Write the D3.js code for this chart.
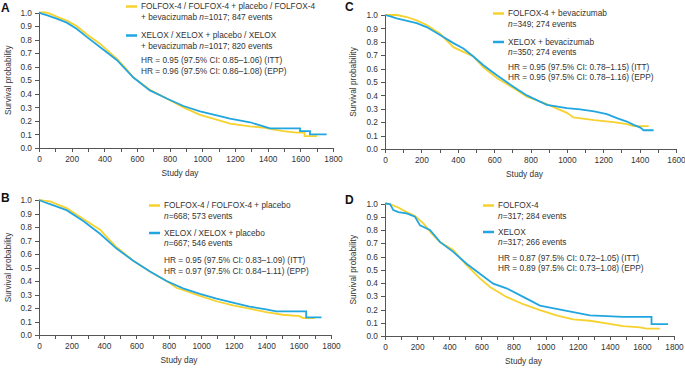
<!DOCTYPE html>
<html lang="en"><head>
<meta charset="utf-8">
<title>Survival curves A-D</title>
<script src="https://cdn.jsdelivr.net/npm/d3@7"></script>
<style>
  body { margin: 0; background: #fff; }
  .axis path, .axis line { fill: none; stroke: #555; shape-rendering: crispEdges; }
  .axis text { font-family: "Liberation Sans", Arial, sans-serif; font-size: 8.3px; fill: #333; }
  .lbl { font-family: "Liberation Sans", Arial, sans-serif; font-size: 8.3px; fill: #333; }
</style>
<script>
// survival data: [study day, survival probability]
const aFolfox = [[0,1],[40,1.0],[70,0.99],[108,0.97],[170,0.94],[230,0.90],[292,0.84],[373,0.77],[476,0.66],[530,0.59],[578,0.52],[679,0.43],[782,0.365],[884,0.30],[986,0.245],[1088,0.21],[1169,0.18],[1292,0.16],[1371,0.15],[1496,0.125],[1577,0.114],[1626,0.114],[1626,0.088],[1702,0.088]];
const aXelox = [[0,1],[20,0.99],[47,0.98],[108,0.955],[170,0.925],[230,0.88],[292,0.82],[373,0.745],[476,0.65],[578,0.52],[679,0.425],[782,0.365],[884,0.31],[986,0.27],[1088,0.24],[1169,0.217],[1292,0.19],[1414,0.145],[1598,0.145],[1598,0.125],[1659,0.125],[1659,0.10],[1761,0.10]];

const bFolfox = [[0,1],[30,0.995],[68,0.99],[170,0.94],[273,0.86],[376,0.78],[478,0.65],[500,0.63],[581,0.55],[684,0.47],[786,0.40],[847,0.35],[992,0.29],[1094,0.25],[1195,0.22],[1298,0.195],[1400,0.17],[1503,0.15],[1606,0.14],[1628,0.125],[1700,0.125]];
const bXelox = [[0,1],[30,0.985],[68,0.97],[170,0.925],[273,0.845],[376,0.75],[478,0.64],[581,0.55],[684,0.47],[786,0.40],[888,0.345],[992,0.305],[1094,0.27],[1195,0.24],[1298,0.21],[1400,0.19],[1462,0.175],[1647,0.175],[1647,0.13],[1741,0.13]];

const cFolfox = [[0,1],[64,1.0],[120,0.985],[174,0.96],[229,0.925],[303,0.86],[376,0.76],[431,0.725],[486,0.69],[541,0.61],[615,0.53],[706,0.455],[780,0.39],[890,0.335],[1000,0.27],[1037,0.235],[1150,0.215],[1257,0.20],[1330,0.185],[1367,0.17],[1450,0.17]];
const cXelox = [[0,1],[30,0.99],[64,0.975],[174,0.94],[229,0.91],[303,0.85],[376,0.79],[431,0.75],[486,0.69],[541,0.625],[615,0.55],[706,0.465],[780,0.40],[890,0.33],[1000,0.305],[1073,0.295],[1150,0.28],[1220,0.26],[1275,0.23],[1330,0.205],[1367,0.18],[1404,0.16],[1422,0.14],[1477,0.14]];

const dFolfox = [[0,1],[31,0.995],[83,0.97],[135,0.935],[187,0.905],[239,0.85],[290,0.775],[342,0.71],[425,0.65],[508,0.535],[591,0.435],[654,0.37],[757,0.295],[861,0.24],[965,0.195],[1068,0.155],[1172,0.125],[1276,0.115],[1380,0.095],[1483,0.075],[1587,0.065],[1629,0.055],[1712,0.055]];
const dXelox = [[0,1],[31,0.995],[52,0.95],[83,0.935],[135,0.925],[187,0.90],[218,0.835],[280,0.80],[342,0.71],[425,0.635],[508,0.545],[591,0.47],[674,0.395],[757,0.36],[861,0.295],[965,0.23],[1068,0.205],[1172,0.18],[1276,0.155],[1380,0.15],[1483,0.145],[1660,0.145],[1660,0.09],[1763,0.09]];

const yTicks = [0,0.1,0.2,0.3,0.4,0.5,0.6,0.7,0.8,0.9,1.0];

// legend texts: [folfox line 1, folfox line 2, xelox line 1, xelox line 2, HR ITT, HR EPP]
const aLegend = ["FOLFOX-4 / FOLFOX-4 + placebo / FOLFOX-4", "+ bevacizumab |n|=1017; 847 events", "XELOX / XELOX + placebo / XELOX", "+ bevacizumab |n|=1017; 820 events", "HR = 0.95 (97.5% CI: 0.85\u20131.06) (ITT)", "HR = 0.96 (97.5% CI: 0.86\u20131.08) (EPP)"];
const bLegend = ["FOLFOX-4 / FOLFOX-4 + placebo", "|n|=668; 573 events", "XELOX / XELOX + placebo", "|n|=667;  546 events", "HR = 0.95 (97.5% CI: 0.83\u20131.09) (ITT)", "HR = 0.97 (97.5% CI: 0.84\u20131.11) (EPP)"];
const cLegend = ["FOLFOX-4 + bevacizumab", "|n|=349; 274 events", "XELOX + bevacizumab", "|n|=350;  274 events", "HR = 0.95 (97.5% CI: 0.78\u20131.15) (ITT)", "HR = 0.95 (97.5% CI: 0.78\u20131.16) (EPP)"];
const dLegend = ["FOLFOX-4", "|n|=317; 284 events", "XELOX", "|n|=317; 266 events", "HR = 0.87 (97.5% CI: 0.72\u20131.05) (ITT)", "HR = 0.89 (97.5% CI: 0.73\u20131.08) (EPP)"];

const yellow = "#f6d22e";
const blue = "#21a6e0";

const width = 685, height = 369;

// panel layout (pixel frame of each plot)
const panels = [
  {letter: "A", folfox: aFolfox, xelox: aXelox, legend: aLegend, xMax: 1800, x0: 39, x1: 333, yTop: 12.5, yBot: 148, lx: 126, ly: [9, 19.5, 38, 48.5, 63, 73.5], ylx: 8, letterPos: [1, 12]},
  {letter: "C", folfox: cFolfox, xelox: cXelox, legend: cLegend, xMax: 1600, x0: 385, x1: 676, yTop: 15, yBot: 149, lx: 493, ly: [16, 26.5, 44.5, 55, 69.5, 80], ylx: 353, letterPos: [345, 11]},
  {letter: "B", folfox: bFolfox, xelox: bXelox, legend: bLegend, xMax: 1800, x0: 39, x1: 331, yTop: 200, yBot: 335, lx: 149, ly: [208, 218.5, 235.5, 246, 263, 273.5], ylx: 8, letterPos: [1, 202]},
  {letter: "D", folfox: dFolfox, xelox: dXelox, legend: dLegend, xMax: 1800, x0: 385, x1: 674, yTop: 203.5, yBot: 336, lx: 483, ly: [208, 218.5, 234.5, 245, 260.5, 271], ylx: 353, letterPos: [345, 204]}
];

const addRichText = (g, str, x, y) => {
  const t = g.append("text").attr("class", "lbl").attr("x", x).attr("y", y);
  str.split("|").forEach((part, i) => {
    if (part === "") return;
    t.append("tspan").text(part).attr("font-style", i % 2 === 1 ? "italic" : null);
  });
};

const drawPanel = (svg, p) => {
  const xScale = d3.scaleLinear().domain([0, p.xMax]).range([p.x0, p.x1]);
  const yScale = d3.scaleLinear().domain([0, 1]).range([p.yBot, p.yTop]);

  const xAxis = d3.axisBottom(xScale)
    .tickValues(d3.range(0, p.xMax + 1, 100))
    .tickFormat(d => d % 200 === 0 ? d : "")
    .tickSize(4).tickPadding(4).tickSizeOuter(0);
  const yAxis = d3.axisLeft(yScale)
    .tickValues(yTicks).tickFormat(d3.format(".1f"))
    .tickSize(4).tickPadding(3).tickSizeOuter(0);

  svg.append("g").attr("class", "axis")
    .attr("transform", "translate(0," + p.yBot + ")").call(xAxis);
  svg.append("g").attr("class", "axis")
    .attr("transform", "translate(" + p.x0 + ",0)").call(yAxis);

  const line = d3.line().x(d => xScale(d[0])).y(d => yScale(d[1]));
  svg.append("path").datum(p.folfox).attr("d", line)
    .attr("fill", "none").attr("stroke", yellow).attr("stroke-width", 1.8);
  svg.append("path").datum(p.xelox).attr("d", line)
    .attr("fill", "none").attr("stroke", blue).attr("stroke-width", 1.8);

  // axis titles
  svg.append("text").attr("class", "lbl")
    .attr("x", (p.x0 + p.x1) / 2 - 6).attr("y", p.yBot + 28)
    .attr("text-anchor", "middle").text("Study day");
  svg.append("text").attr("class", "lbl")
    .attr("transform", "translate(" + (p.ylx + 3) + "," + ((p.yTop + p.yBot) / 2) + ") rotate(-90)")
    .attr("text-anchor", "middle").text("Survival probability");

  // panel letter
  svg.append("text").attr("x", p.letterPos[0]).attr("y", p.letterPos[1])
    .attr("font-family", "Liberation Sans, Arial, sans-serif")
    .attr("font-weight", "bold").attr("font-size", "12px").attr("fill", "#111")
    .text(p.letter);

  // legend
  const g = svg.append("g");
  g.append("line").attr("x1", p.lx).attr("x2", p.lx + 11)
    .attr("y1", p.ly[0] - 2.5).attr("y2", p.ly[0] - 2.5)
    .attr("stroke", yellow).attr("stroke-width", 2.5);
  g.append("line").attr("x1", p.lx).attr("x2", p.lx + 11)
    .attr("y1", p.ly[2] - 2.5).attr("y2", p.ly[2] - 2.5)
    .attr("stroke", blue).attr("stroke-width", 2.5);
  p.legend.forEach((s, i) => addRichText(g, s, p.lx + 15, p.ly[i]));
};
</script>
</head>
<body>
<script>
const svg = d3.select("body").append("svg")
  .attr("width", width).attr("height", height);
panels.forEach(p => drawPanel(svg, p));
</script>
</body></html>
